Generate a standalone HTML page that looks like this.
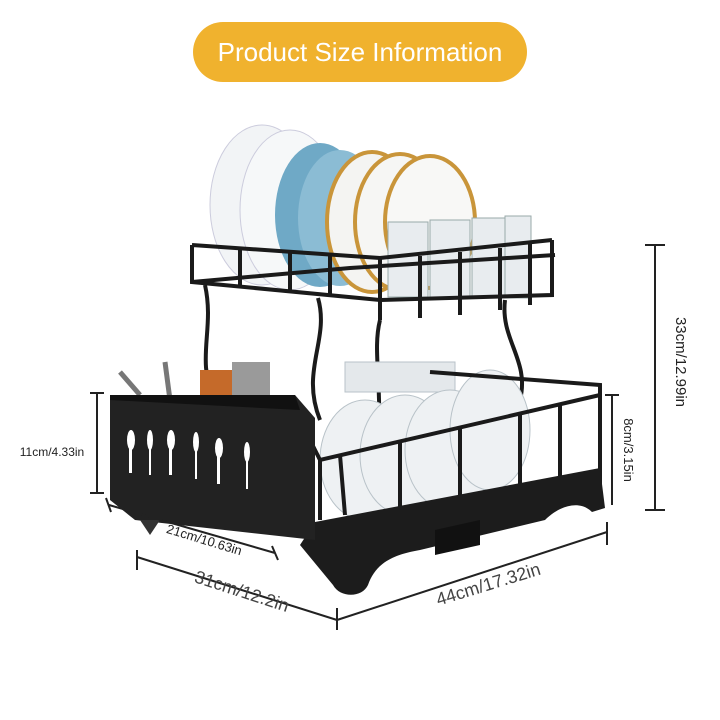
<!DOCTYPE html>
<html><head><meta charset="utf-8"><style>
body{margin:0;background:#fff;}
svg{display:block}
text{font-family:"Liberation Sans",sans-serif;}
</style></head><body>
<svg width="720" height="720" viewBox="0 0 720 720">
<rect width="720" height="720" fill="#fff"/>
<rect x="193" y="22" width="334" height="60" rx="30" fill="#f0b22e"/>
<text x="360" y="61" font-size="26" fill="#fff" text-anchor="middle">Product Size Information</text>

<g>
<ellipse cx="262" cy="205" rx="52" ry="80" fill="#f2f4f6" stroke="#ccd" />
<ellipse cx="290" cy="210" rx="50" ry="80" fill="#f6f8f9" stroke="#ccd"/>
<ellipse cx="320" cy="215" rx="45" ry="72" fill="#6fa9c6"/>
<ellipse cx="340" cy="218" rx="42" ry="68" fill="#8bbcd4"/>
<ellipse cx="372" cy="222" rx="45" ry="70" fill="#f4f4f2" stroke="#c9953a" stroke-width="4"/>
<ellipse cx="400" cy="222" rx="45" ry="68" fill="#f6f6f4" stroke="#c9953a" stroke-width="4"/>
<ellipse cx="430" cy="222" rx="45" ry="66" fill="#f8f8f6" stroke="#c9953a" stroke-width="4"/>
</g>
<g fill="#e8ecef" stroke="#9aa" stroke-width="1">
<rect x="388" y="222" width="40" height="75"/><rect x="430" y="220" width="40" height="78"/><rect x="472" y="218" width="40" height="80"/><rect x="505" y="216" width="26" height="82"/>
</g>
<g fill="none" stroke="#1a1a1a" stroke-width="4">
<path d="M192 245 L380 258 L552 240 M192 245 L192 282 L380 300 L552 295 L552 240"/>
<path d="M192 282 L350 268 L555 255"/>
<path d="M380 258 L380 320 M240 250 L240 288 M290 253 L290 292 M330 256 L330 297 M420 256 L420 318 M460 252 L460 315 M500 248 L500 310 M530 244 L530 305"/>
<path d="M205 285 C215 330 195 360 215 400 M318 298 C330 340 300 370 320 420 M380 320 C370 360 390 400 370 520 M505 300 C500 340 530 360 520 400"/>
</g>
<g fill="#eef1f3" stroke="#b8c2c8">
<rect x="345" y="362" width="110" height="30" fill="#e4e8eb"/>
<ellipse cx="365" cy="460" rx="45" ry="60"/><ellipse cx="405" cy="455" rx="45" ry="60"/><ellipse cx="450" cy="450" rx="45" ry="60"/><ellipse cx="490" cy="430" rx="40" ry="60"/>
</g>
<g fill="none" stroke="#1a1a1a" stroke-width="4">
<path d="M300 420 L320 460 L600 395 L600 385 L430 372"/>
<path d="M320 460 L320 520 M600 395 L600 490 M340 455 L345 515 M400 440 L400 510 M460 428 L460 500 M520 415 L520 495 M560 405 L560 490"/>
</g>
<path d="M315 522 L600 468 L605 508 L592 512 C580 500 560 505 545 520 L420 550 C390 555 375 565 368 585 C362 598 340 598 333 585 L300 545 Z" fill="#1c1c1c"/>
<path d="M435 530 L480 520 L480 545 L435 555 Z" fill="#111"/>
<rect x="200" y="370" width="40" height="60" fill="#c56a2a"/>
<rect x="232" y="362" width="38" height="50" fill="#9a9a9a"/>
<path d="M120 372 L140 395 M165 362 L170 400" stroke="#777" stroke-width="5"/>
<path d="M110 395 L295 395 L315 418 L315 540 L135 520 L110 500 Z" fill="#222"/>
<path d="M110 395 L295 395 L300 410 L110 400 Z" fill="#111"/>
<g fill="#fff">
<ellipse cx="131" cy="440" rx="4" ry="10"/><rect x="129" y="445" width="3" height="28"/>
<ellipse cx="150" cy="440" rx="3" ry="10"/><rect x="149" y="445" width="2" height="30"/>
<ellipse cx="171" cy="440" rx="4" ry="10"/><rect x="169" y="445" width="3" height="30"/>
<ellipse cx="196" cy="442" rx="3" ry="10"/><rect x="195" y="447" width="2" height="32"/>
<ellipse cx="219" cy="448" rx="4" ry="10"/><rect x="217" y="452" width="3" height="32"/>
<ellipse cx="247" cy="452" rx="3" ry="10"/><rect x="246" y="457" width="2" height="32"/>
</g>
<path d="M140 520 L160 520 L150 535 Z" fill="#333"/>

<g stroke="#222" stroke-width="2" fill="none">
<path d="M655 245 L655 510 M645 245 L665 245 M645 510 L665 510"/>
<path d="M612 395 L612 505 M605 395 L619 395"/>
<path d="M97 393 L97 493 M90 393 L104 393 M90 493 L104 493"/>
<path d="M109 505 L275 553 M106 498 L111 512 M272 546 L278 560"/>
<path d="M137 557 L337 620 M137 550 L137 570"/>
<path d="M337 620 L607 532 M337 608 L337 630 M607 522 L607 545"/>
</g>
<text x="676" y="362" font-size="15" fill="#222" text-anchor="middle" transform="rotate(90 676 362)">33cm/12.99in</text>
<text x="624" y="450" font-size="13" fill="#222" text-anchor="middle" transform="rotate(90 624 450)">8cm/3.15in</text>
<text x="52" y="456" font-size="12" fill="#222" text-anchor="middle">11cm/4.33in</text>
<text x="203" y="544" font-size="13" fill="#222" text-anchor="middle" transform="rotate(17 203 544)">21cm/10.63in</text>
<text x="240" y="597" font-size="18" fill="#444" text-anchor="middle" transform="rotate(18 240 597)">31cm/12.2in</text>
<text x="490" y="590" font-size="18" fill="#444" text-anchor="middle" transform="rotate(-17 490 590)">44cm/17.32in</text>
</svg>
</body></html>
